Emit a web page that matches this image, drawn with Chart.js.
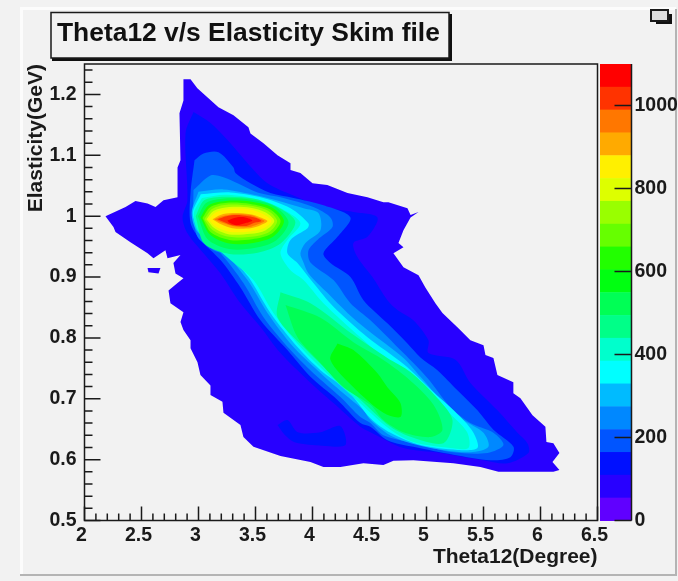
<!DOCTYPE html>
<html>
<head>
<meta charset="utf-8">
<title>Theta12 v/s Elasticity Skim file</title>
<script src="https://cdn.jsdelivr.net/npm/chart.js@4"></script>
<style>
html, body { margin: 0; padding: 0; background: #f2f2f2; }
canvas { display: block; }
</style>
</head>
<body>
<div style="width:678px;height:581px"><canvas id="chart" width="678" height="581"></canvas></div>
<script>
// Colour scale, top of the bar first (each band is 55 counts)
const bandColors = ['#ff0000', '#ff3300', '#ff7700', '#ffaa00', '#fff000', '#ddff00', '#99ff00', '#66ff00', '#22ff00', '#00ff11',
    '#00ff55', '#00ff88', '#00ffcc', '#00ffff', '#00bbff', '#0088ff', '#0055ff', '#0010ff', '#2800ff', '#6000ff'];
const bandStep = 55;
const xTicks = [2, 2.5, 3, 3.5, 4, 4.5, 5, 5.5, 6, 6.5];
const yTicks = [0.5, 0.6, 0.7, 0.8, 0.9, 1, 1.1, 1.2];
const zTicks = [0, 200, 400, 600, 800, 1000];

// Contour outlines as [Theta12, Elasticity]
const level19 = [[2.868,1.225],[2.93,1.225],[2.99,1.21],[3.08,1.195],[3.175,1.179],[3.307,1.166],[3.438,1.146],[3.456,1.136],[3.57,1.12],[3.693,1.1],[3.807,1.087],[3.807,1.076],[3.894,1.071],[4,1.054],[4.13,1.051],[4.307,1.038],[4.482,1.031],[4.622,1.023],[4.666,1.023],[4.833,1.013],[4.86,1.002],[4.93,1.007],[4.86,0.998],[4.798,0.977],[4.754,0.956],[4.798,0.949],[4.71,0.939],[4.798,0.916],[4.93,0.903],[4.99,0.883],[5.078,0.857],[5.14,0.841],[5.28,0.816],[5.385,0.796],[5.5,0.788],[5.517,0.772],[5.587,0.767],[5.622,0.739],[5.762,0.727],[5.762,0.709],[5.824,0.701],[5.93,0.673],[6.043,0.654],[6.052,0.629],[6.113,0.627],[6.166,0.611],[6.105,0.596],[6.166,0.583],[6.113,0.58],[5.631,0.58],[5.473,0.588],[5.236,0.594],[4.885,0.599],[4.71,0.598],[4.622,0.591],[4.447,0.594],[4.245,0.588],[4.096,0.588],[3.982,0.596],[3.719,0.606],[3.482,0.621],[3.394,0.637],[3.368,0.657],[3.219,0.677],[3.21,0.695],[3.105,0.706],[3.105,0.722],[3.017,0.739],[2.991,0.76],[2.93,0.783],[2.93,0.796],[2.868,0.813],[2.842,0.826],[2.868,0.842],[2.754,0.857],[2.737,0.878],[2.816,0.89],[2.868,0.898],[2.798,0.906],[2.78,0.923],[2.842,0.936],[2.728,0.931],[2.71,0.944],[2.605,0.931],[2.553,0.939],[2.403,0.957],[2.272,0.974],[2.254,0.982],[2.184,1],[2.36,1.015],[2.447,1.025],[2.553,1.021],[2.623,1.015],[2.693,1.026],[2.816,1.031],[2.816,1.08],[2.842,1.092],[2.833,1.169],[2.868,1.19]];
const level19Blob = [[2.553,0.915],[2.666,0.915],[2.649,0.906],[2.561,0.908]];
const level18 = [[2.956,1.171],[3.105,1.153],[3.254,1.125],[3.43,1.087],[3.605,1.054],[3.833,1.034],[4.096,1.015],[4.359,1.007],[4.57,0.998],[4.482,0.966],[4.359,0.956],[4.394,0.933],[4.526,0.9],[4.657,0.862],[4.745,0.846],[4.885,0.829],[5.017,0.796],[5.017,0.775],[5.254,0.764],[5.385,0.726],[5.622,0.681],[5.798,0.644],[5.885,0.627],[5.894,0.611],[5.71,0.594],[5.5,0.599],[5.122,0.611],[4.798,0.619],[4.508,0.645],[4.42,0.654],[4.184,0.693],[3.956,0.731],[3.719,0.775],[3.544,0.818],[3.368,0.857],[3.193,0.906],[3.044,0.939],[2.903,0.972],[2.86,0.998],[2.903,1.026],[2.886,1.136]];
const level18Patch = [[3.693,0.657],[3.78,0.665],[3.87,0.645],[4.07,0.645],[4.245,0.655],[4.289,0.624],[4.087,0.623],[3.85,0.628],[3.76,0.64]];
const level17 = [[2.965,1.092],[3.044,1.103],[3.175,1.105],[3.307,1.08],[3.324,1.071],[3.456,1.054],[3.631,1.038],[3.833,1.03],[4.096,1.018],[4.333,0.998],[4.219,0.966],[4.096,0.939],[4.157,0.923],[4.333,0.9],[4.447,0.862],[4.657,0.824],[4.833,0.791],[4.947,0.768],[5.096,0.747],[5.271,0.714],[5.447,0.681],[5.587,0.649],[5.763,0.621],[5.736,0.604],[5.561,0.599],[5.236,0.608],[4.885,0.621],[4.657,0.632],[4.508,0.654],[4.42,0.66],[4.219,0.698],[3.982,0.736],[3.78,0.78],[3.544,0.829],[3.368,0.883],[3.193,0.928],[3.017,0.961],[2.93,0.989],[2.93,1.038]];
const level16 = [[2.956,1.043],[3.105,1.067],[3.219,1.064],[3.342,1.054],[3.517,1.039],[3.745,1.03],[4.008,1.015],[4.157,0.998],[4.175,0.982],[4.043,0.961],[3.965,0.944],[3.982,0.924],[4.184,0.895],[4.333,0.857],[4.508,0.829],[4.798,0.775],[5.008,0.734],[5.21,0.686],[5.385,0.66],[5.587,0.644],[5.675,0.624],[5.535,0.611],[5.236,0.612],[4.885,0.627],[4.622,0.64],[4.508,0.66],[4.42,0.67],[4.245,0.703],[4.008,0.742],[3.807,0.78],[3.57,0.834],[3.394,0.89],[3.193,0.939],[3.131,0.944],[2.991,0.966],[2.956,1.005]];
const level15 = [[3,1.04],[3.219,1.044],[3.517,1.034],[3.745,1.023],[3.921,1.013],[4.052,1.005],[4.07,0.977],[3.938,0.956],[3.894,0.939],[3.921,0.924],[3.965,0.906],[4.131,0.874],[4.307,0.841],[4.482,0.813],[4.798,0.767],[4.947,0.736],[5.149,0.693],[5.324,0.665],[5.5,0.644],[5.543,0.621],[5.385,0.612],[5.035,0.619],[4.71,0.637],[4.508,0.665],[4.447,0.681],[4.271,0.709],[4.043,0.747],[3.833,0.785],[3.605,0.841],[3.43,0.895],[3.193,0.947],[2.991,0.974],[2.94,1.005]];
const level14 = [[3.02,1.036],[3.28,1.039],[3.544,1.031],[3.807,1.013],[3.965,0.988],[3.956,0.98],[3.807,0.961],[3.78,0.939],[3.868,0.923],[4.008,0.89],[4.184,0.851],[4.482,0.801],[4.798,0.757],[5.061,0.711],[5.298,0.67],[5.412,0.644],[5.447,0.619],[5.271,0.616],[4.947,0.624],[4.684,0.644],[4.508,0.668],[4.306,0.714],[4.07,0.747],[3.868,0.785],[3.631,0.841],[3.438,0.9],[3.193,0.952],[3.017,0.974],[2.95,1.005]];
const level13 = [[3.03,1.03],[3.25,1.035],[3.57,1.025],[3.78,1.007],[3.894,0.988],[3.78,0.961],[3.719,0.939],[3.807,0.911],[3.921,0.895],[4.096,0.857],[4.42,0.801],[4.71,0.752],[5.008,0.709],[5.236,0.67],[5.359,0.644],[5.368,0.619],[5.21,0.619],[4.885,0.629],[4.684,0.649],[4.359,0.703],[4.096,0.747],[3.894,0.785],[3.657,0.841],[3.482,0.895],[3.28,0.928],[3.131,0.952],[2.991,0.977],[2.96,1.005]];
const level12Peak = [[2.975,1],[3.05,1.026],[3.23,1.032],[3.5,1.028],[3.72,1.012],[3.85,0.99],[3.72,0.955],[3.52,0.94],[3.27,0.938],[3.05,0.955]];
const level12Body = [[3.719,0.875],[3.982,0.857],[4.359,0.805],[4.657,0.767],[4.859,0.744],[5.096,0.701],[5.228,0.665],[5.149,0.627],[4.885,0.636],[4.684,0.654],[4.394,0.703],[4.131,0.747],[3.921,0.785],[3.693,0.834]];
const level11Peak = [[2.995,1],[3.07,1.022],[3.23,1.029],[3.46,1.027],[3.67,1.016],[3.79,0.99],[3.68,0.96],[3.5,0.948],[3.27,0.946],[3.08,0.962]];
const level11Body = [[3.763,0.854],[4.07,0.833],[4.359,0.793],[4.596,0.767],[4.833,0.734],[5.061,0.69],[5.14,0.649],[5.035,0.637],[4.798,0.645],[4.622,0.665],[4.508,0.69],[4.271,0.719],[4.043,0.764],[3.868,0.801]];
const level10Body = [[4.219,0.791],[4.359,0.78],[4.57,0.742],[4.657,0.719],[4.771,0.693],[4.771,0.67],[4.622,0.677],[4.359,0.719],[4.157,0.764]];
const level9 = [[3.017,0.998],[3.09,1.018],[3.24,1.025],[3.456,1.024],[3.65,1.014],[3.75,0.992],[3.66,0.967],[3.48,0.956],[3.27,0.955],[3.1,0.97]];
const level8 = [[3.035,0.997],[3.105,1.015],[3.25,1.022],[3.456,1.02],[3.63,1.011],[3.72,0.992],[3.64,0.971],[3.47,0.962],[3.27,0.961],[3.11,0.973]];
const level7 = [[3.052,0.995],[3.122,1.012],[3.263,1.019],[3.456,1.017],[3.61,1.009],[3.69,0.992],[3.62,0.974],[3.465,0.966],[3.27,0.966],[3.125,0.977]];
const level6 = [[3.07,0.995],[3.135,1.009],[3.27,1.015],[3.456,1.014],[3.59,1.006],[3.665,0.992],[3.59,0.977],[3.456,0.971],[3.27,0.97],[3.14,0.98]];
const level5 = [[3.087,0.995],[3.15,1.006],[3.28,1.012],[3.456,1.011],[3.57,1.003],[3.64,0.992],[3.57,0.98],[3.456,0.975],[3.28,0.974],[3.15,0.983]];
const level4 = [[3.123,0.995],[3.193,1.002],[3.298,1.005],[3.456,1.003],[3.544,0.998],[3.605,0.992],[3.544,0.985],[3.456,0.98],[3.298,0.98],[3.193,0.987]];
const level3 = [[3.14,0.995],[3.21,1],[3.315,1.003],[3.456,1.002],[3.526,0.997],[3.579,0.992],[3.526,0.987],[3.438,0.982],[3.298,0.984],[3.21,0.989]];
const level2 = [[3.166,0.995],[3.245,1],[3.333,1.002],[3.438,1],[3.508,0.997],[3.552,0.992],[3.491,0.989],[3.421,0.984],[3.298,0.985],[3.228,0.99]];
const level1 = [[3.254,0.993],[3.333,0.998],[3.412,0.998],[3.473,0.993],[3.421,0.989],[3.333,0.985],[3.272,0.989]];

// outer to inner, second entry is the band in bandColors
const contours = [
    [level19, 18], [level19Blob, 18], [level18, 17], [level18Patch, 17], [level17, 16], [level16, 15], [level15, 14],
    [level14, 13], [level13, 12], [level12Peak, 11], [level12Body, 11], [level11Peak, 10], [level11Body, 10], [level10Body, 9],
    [level9, 8], [level8, 7], [level7, 6], [level6, 5], [level5, 4], [level4, 3], [level3, 2], [level2, 1], [level1, 0]
];

const ink = '#1a1a1a';
const fontFamily = "'Liberation Sans', Arial, sans-serif";

const datasets = contours.map(([outline, band], i) => ({
    data: outline.concat([outline[0]]).map(p => ({ x: p[0], y: p[1] })),
    showLine: true,
    fill: 'shape',
    backgroundColor: bandColors[band],
    borderWidth: 0,
    pointRadius: 0,
    tension: i < 2 ? 0 : 0.3,
    order: contours.length - i
}));

// ROOT style frame, inward ticks, colour bar and title box
const rootFrame = {
    id: 'rootFrame',
    beforeDraw(chart) {
        const ctx = chart.ctx;
        ctx.save();
        ctx.fillStyle = '#f2f2f2';
        ctx.fillRect(0, 0, 678, 581);
        ctx.fillStyle = '#fcfcfc';
        ctx.fillRect(20, 7, 656, 3);
        ctx.fillRect(20, 7, 3, 567);
        ctx.fillStyle = '#b4b4b4';
        ctx.fillRect(20, 574, 657, 2);
        ctx.fillRect(675, 9, 2, 567);
        ctx.restore();
    },
    afterDraw(chart) {
        const ctx = chart.ctx;
        const { x, y, z } = chart.scales;
        const area = chart.chartArea;
        ctx.save();
        ctx.strokeStyle = ink;
        ctx.lineWidth = 1.5;
        ctx.strokeRect(area.left, area.top, area.right - area.left, area.bottom - area.top);

        ctx.beginPath();
        for (let i = 0; i <= 45; i++) {
            const px = x.getPixelForValue(2 + i * 0.1);
            ctx.moveTo(px, area.bottom);
            ctx.lineTo(px, area.bottom - (i % 5 === 0 ? 14 : 7));
        }
        for (let i = 0; i <= 37; i++) {
            const py = y.getPixelForValue(0.5 + i * 0.02);
            ctx.moveTo(area.left, py);
            ctx.lineTo(area.left + (i % 5 === 0 ? 16 : 8), py);
        }
        ctx.stroke();

        // colour bar
        const barLeft = 600, barRight = 631.5;
        bandColors.forEach((color, i) => {
            const hi = (bandColors.length - i) * bandStep;
            const top = z.getPixelForValue(hi), bottom = z.getPixelForValue(hi - bandStep);
            ctx.fillStyle = color;
            ctx.fillRect(barLeft, top, barRight - barLeft, bottom - top + 0.5);
        });
        ctx.beginPath();
        ctx.moveTo(barRight, area.top);
        ctx.lineTo(barRight, area.bottom);
        zTicks.forEach(v => {
            const py = z.getPixelForValue(v);
            ctx.moveTo(barRight, py);
            ctx.lineTo(barRight - 17, py);
        });
        ctx.stroke();

        // title box with its shadow
        ctx.fillStyle = '#111';
        ctx.fillRect(52, 14, 400, 47);
        ctx.fillStyle = '#f2f2f2';
        ctx.fillRect(51, 12.5, 398, 45.5);
        ctx.lineWidth = 1.5;
        ctx.strokeRect(51, 12.5, 398, 45.5);
        ctx.fillStyle = '#111';
        ctx.font = 'bold 26.4px ' + fontFamily;
        ctx.textAlign = 'left';
        ctx.textBaseline = 'alphabetic';
        ctx.fillText('Theta12 v/s Elasticity Skim file', 57, 41);

        // small canvas icon in the corner
        ctx.fillStyle = '#111';
        ctx.fillRect(656, 14, 16, 10);
        ctx.fillStyle = '#ddd';
        ctx.lineWidth = 2;
        ctx.fillRect(651, 10, 17, 11);
        ctx.strokeRect(651, 10, 17, 11);
        ctx.restore();
    }
};

new Chart(document.getElementById('chart'), {
    type: 'scatter',
    data: { datasets },
    plugins: [rootFrame],
    options: {
        responsive: false,
        animation: false,
        events: [],
        layout: { padding: { top: 64 } },
        plugins: { legend: { display: false }, title: { display: false }, tooltip: { enabled: false } },
        scales: {
            x: {
                type: 'linear', min: 2, max: 6.5,
                afterBuildTicks: s => { s.ticks = xTicks.map(value => ({ value })); },
                afterFit: s => { s.height = 60.5; },
                grid: { display: false }, border: { display: false },
                ticks: { color: ink, padding: -5, labelOffset: -3, autoSkip: false, maxRotation: 0, callback: v => String(v), font: { family: fontFamily, weight: 'bold', size: 19.5 } },
                title: { display: true, text: 'Theta12(Degree)', align: 'end', color: ink, padding: { top: 0, bottom: 11 }, font: { family: fontFamily, weight: 'bold', size: 21 } }
            },
            y: {
                type: 'linear', min: 0.5, max: 1.25,
                afterBuildTicks: s => { s.ticks = yTicks.map(value => ({ value })); },
                afterFit: s => { s.width = 84.5; },
                grid: { display: false }, border: { display: false },
                ticks: { color: ink, padding: 0, autoSkip: false, callback: v => String(v), font: { family: fontFamily, weight: 'bold', size: 19.5 } },
                title: { display: true, text: 'Elasticity(GeV)', align: 'end', color: ink, padding: { top: 24, bottom: 0 }, font: { family: fontFamily, weight: 'bold', size: 21 } }
            },
            z: {
                type: 'linear', position: 'right', min: 0, max: 1100,
                afterBuildTicks: s => { s.ticks = zTicks.map(value => ({ value })); },
                afterFit: s => { s.width = 80.5; },
                grid: { display: false }, border: { display: false },
                ticks: { color: ink, padding: 29, autoSkip: false, font: { family: fontFamily, weight: 'bold', size: 19.5 }, callback: v => String(v) }
            }
        }
    }
});
</script>
</body>
</html>
